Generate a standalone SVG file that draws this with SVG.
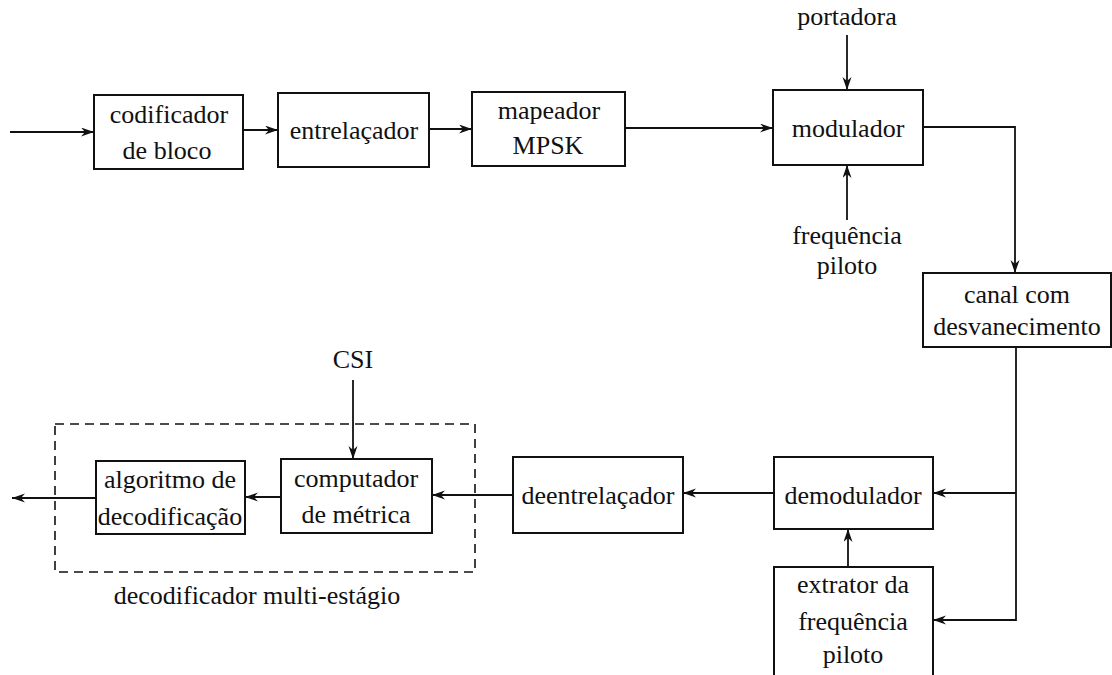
<svg xmlns="http://www.w3.org/2000/svg" width="1112" height="675" viewBox="0 0 1112 675">
  <style>
    .box { fill: #fff; stroke: #111; stroke-width: 2; }
    .dash { fill: none; stroke: #111; stroke-width: 1.6; stroke-dasharray: 9 6; }
    .wire { fill: none; stroke: #111; stroke-width: 1.8; }
    .arr { marker-end: url(#head); }
    text { font-family: 'Liberation Serif', 'Times New Roman', 'DejaVu Serif', serif; font-size: 26px; fill: #111; text-anchor: middle; }
  </style>
  <defs>
    <marker id="head" markerUnits="userSpaceOnUse" markerWidth="14" markerHeight="10" refX="13" refY="4.5" orient="auto">
      <path d="M0,0 L13,4.5 L0,9 L4,4.5 z" fill="#111"/>
    </marker>
  </defs>
  <rect width="1112" height="675" fill="#fff"/>

  <!-- connectors -->
  <g id="connectors">
    <path class="wire arr" d="M10,132 H94"/>
    <path class="wire arr" d="M243,130 H278"/>
    <path class="wire arr" d="M429,129 H472"/>
    <path class="wire arr" d="M625,128 H773"/>
    <path class="wire arr" d="M847,35 V90"/>
    <path class="wire arr" d="M847,220 V165"/>
    <path class="wire arr" d="M923,127 H1015 V273"/>
    <path class="wire arr" d="M1016,347 V620 H933"/>
    <path class="wire arr" d="M1016,493 H933"/>
    <path class="wire arr" d="M848,567 V529"/>
    <path class="wire arr" d="M774,493 H683"/>
    <path class="wire arr" d="M513,495 H432"/>
    <path class="wire arr" d="M353,380 V459"/>
    <path class="wire arr" d="M281,497 H245"/>
    <path class="wire arr" d="M96,498 H12"/>
  </g>

  <!-- transmitter chain -->
  <g id="codificador">
    <rect class="box" x="94" y="95" width="149" height="74"/>
    <text x="169" y="123">codificador</text>
    <text x="167" y="159">de bloco</text>
  </g>
  <g id="entrelacador">
    <rect class="box" x="278" y="93" width="151" height="74"/>
    <text x="354" y="139">entrelaçador</text>
  </g>
  <g id="mapeador">
    <rect class="box" x="472" y="92" width="153" height="74"/>
    <text x="549" y="119">mapeador</text>
    <text x="548" y="154">MPSK</text>
  </g>
  <g id="modulador">
    <rect class="box" x="773" y="90" width="150" height="75"/>
    <text x="848" y="137">modulador</text>
  </g>
  <g id="portadora">
    <text x="847" y="25">portadora</text>
  </g>
  <g id="frequencia-piloto">
    <text x="847" y="244">frequência</text>
    <text x="847" y="274">piloto</text>
  </g>
  <g id="canal">
    <rect class="box" x="923" y="273" width="188" height="74"/>
    <text x="1017" y="303">canal com</text>
    <text x="1017" y="335">desvanecimento</text>
  </g>

  <!-- receiver chain -->
  <g id="demodulador">
    <rect class="box" x="774" y="457" width="159" height="72"/>
    <text x="853" y="504">demodulador</text>
  </g>
  <g id="extrator">
    <rect class="box" x="774" y="567" width="159" height="115"/>
    <text x="853" y="593">extrator da</text>
    <text x="853" y="630">frequência</text>
    <text x="853" y="663">piloto</text>
  </g>
  <g id="deentrelacador">
    <rect class="box" x="513" y="457" width="170" height="76"/>
    <text x="598" y="504">deentrelaçador</text>
  </g>
  <g id="csi">
    <text x="353" y="368">CSI</text>
  </g>
  <g id="decodificador-multiestagio">
    <rect class="dash" x="55" y="424" width="420" height="148"/>
    <text x="257" y="604">decodificador multi-estágio</text>
  </g>
  <g id="computador">
    <rect class="box" x="281" y="459" width="151" height="74"/>
    <text x="356" y="487">computador</text>
    <text x="356" y="523">de métrica</text>
  </g>
  <g id="algoritmo">
    <rect class="box" x="96" y="461" width="149" height="73"/>
    <text x="170" y="488">algoritmo de</text>
    <text x="170" y="525">decodificação</text>
  </g>
</svg>
